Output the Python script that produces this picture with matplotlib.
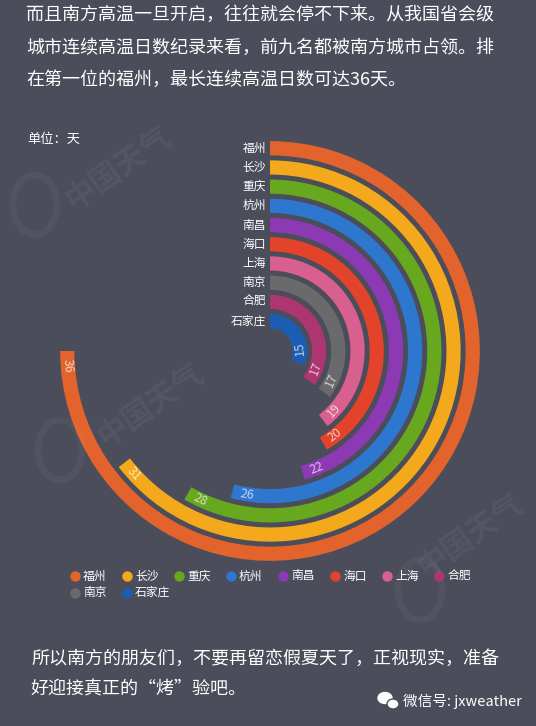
import numpy as np
import matplotlib.pyplot as plt
import matplotlib.colors as mcolors
from matplotlib.patches import Circle, Ellipse

plt.rcParams['font.family'] = ['Noto Sans CJK SC', 'DejaVu Sans']

# 数据
cities = ['福州', '长沙', '重庆', '杭州', '南昌', '海口', '上海', '合肥', '南京', '石家庄']
ring_order = ['福州', '长沙', '重庆', '杭州', '南昌', '海口', '上海', '南京', '合肥', '石家庄']
days = {'福州': 36, '长沙': 31, '重庆': 28, '杭州': 26, '南昌': 22,
        '海口': 20, '上海': 19, '南京': 17, '合肥': 17, '石家庄': 15}
colors = {'福州': '#e2642c', '长沙': '#f4a91c', '重庆': '#67a81f', '杭州': '#2e77cf',
          '南昌': '#8c3ab3', '海口': '#e2432a', '上海': '#d8608e', '南京': '#6a6a6c',
          '合肥': '#ad3570', '石家庄': '#1c5db3'}
axis_max = 48

bg = '#4b4d5b'
W, H = 536, 726
cx, cy = 270, 351      # 圆心（像素）
rpx = 19.2             # 每个环占的像素
rmax = 11.2

fig = plt.figure(figsize=(W / 100, H / 100), dpi=100, facecolor=bg)


def fx(x):
    return x / W


def fy(y):
    return 1 - y / H


# 水印
def watermark(x, y, ang, size=22):
    fig.text(fx(x), fy(y), '中国天气', color='white', alpha=0.05, fontsize=size,
             rotation=ang, ha='center', va='center', fontweight='bold')


watermark(118, 168, 35)
watermark(150, 405, 35)
watermark(470, 535, 35)
for (x, y) in [(35, 205), (60, 450), (420, 590)]:
    fig.patches.append(Circle((fx(x), fy(y)), 22 / W, transform=fig.transFigure,
                              fill=False, ec='white', lw=5, alpha=0.035))

# 径向条形图
side = 2 * rmax * rpx
ax = fig.add_axes([fx(cx - side / 2), fy(cy + side / 2), side / W, side / H],
                  projection='polar')
ax.set_facecolor('none')
ax.set_theta_zero_location('N')
ax.set_theta_direction(-1)
ax.set_ylim(0, rmax)
ax.set_axis_off()

n = len(ring_order)
for i, c in enumerate(ring_order):
    r = 1.56 + (n - 1 - i)
    th = days[c] / axis_max * 2 * np.pi
    ax.bar(0, 0.74, width=th, bottom=r - 0.37, align='edge', color=colors[c],
           edgecolor='none')
    # 城市名
    ax.annotate(c, xy=(0, r), xytext=(-3, 0), textcoords='offset points',
                ha='right', va='center', color='white', fontsize=8.5)
    # 数值
    tl = th - 0.75 / r
    rot = 180 - np.degrees(tl)
    tc = mcolors.to_rgb(colors[c])
    tc = tuple(0.3 * v + 0.7 for v in tc)
    ax.text(tl, r, str(days[c]), rotation=rot, rotation_mode='anchor',
            ha='center', va='center', color=tc, fontsize=9)

# 文字
top_lines = ['而且南方高温一旦开启，往往就会停不下来。从我国省会级',
             '城市连续高温日数纪录来看，前九名都被南方城市占领。排',
             '在第一位的福州，最长连续高温日数可达36天。']
for k, s in enumerate(top_lines):
    fig.text(fx(26), fy(15 + k * 32.5), s, color='white', fontsize=13,
             ha='left', va='center')

fig.text(fx(27), fy(139), '单位：天', color='white', fontsize=9.5, ha='left', va='center')

# 图例
for i, c in enumerate(cities):
    row, col = divmod(i, 8)
    x = 75 + col * 52
    y = 576 + row * 16.5
    fig.lines.append(plt.Line2D([fx(x)], [fy(y)], marker='o', ms=6.5, color=colors[c],
                                transform=fig.transFigure))
    fig.text(fx(x + 8), fy(y), c, color='white', fontsize=8.5, ha='left', va='center')

bottom_lines = ['所以南方的朋友们，不要再留恋假夏天了，正视现实，准备',
                '好迎接真正的“烤”验吧。']
for k, s in enumerate(bottom_lines):
    fig.text(fx(31), fy(659 + k * 31), s, color='white', fontsize=13,
             ha='left', va='center')

# 微信图标
fig.patches.append(Ellipse((fx(385), fy(698)), 14 / W, 11 / H, transform=fig.transFigure,
                           color='white'))
fig.patches.append(Ellipse((fx(393), fy(704)), 12 / W, 10 / H, transform=fig.transFigure,
                           color='white', ec=bg, lw=1))
fig.text(fx(403), fy(701), '微信号: jxweather', color='white', fontsize=10.5,
         ha='left', va='center')

fig.savefig('out.png', dpi=100, facecolor=bg)
